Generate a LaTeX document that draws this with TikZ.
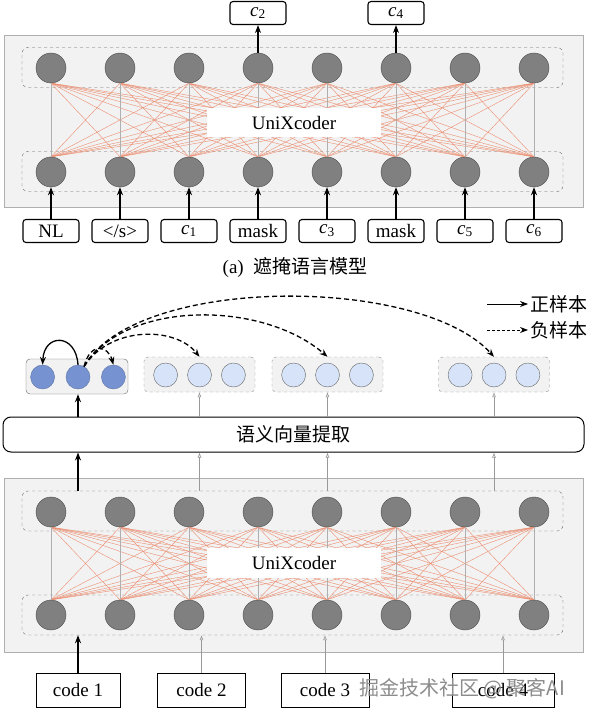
\documentclass[tikz,border=0pt]{standalone}
\usepackage{fontspec}
\setmainfont{Liberation Serif}
\newfontfamily\cjk{Noto Sans CJK SC}
\usetikzlibrary{arrows.meta,positioning}
\definecolor{encbg}{RGB}{242,242,242}
\definecolor{encln}{RGB}{175,175,175}
\definecolor{neuron}{RGB}{128,128,128}
\definecolor{link}{RGB}{236,140,110}
\definecolor{posblue}{RGB}{118,146,208}
\definecolor{negblue}{RGB}{214,227,248}
\newcommand{\cc}[1]{\textit{c}\textsubscript{#1}}

\begin{document}
\begin{tikzpicture}[x=1pt,y=-1pt,font=\fontsize{19}{22}\selectfont,
  >={Stealth[length=8pt,width=6pt]},
  nr/.style={circle,draw=black!70,fill=neuron,minimum size=30pt,inner sep=0pt},
  tok/.style={draw,rounded corners=3pt,line width=1.1pt,minimum width=56pt,minimum height=23pt,inner sep=0pt},
  cd/.style={draw,line width=0.9pt,minimum width=88pt,minimum height=34pt,inner sep=0pt},
  lay/.style={draw=black!60,dashed,rounded corners=6pt,minimum width=541pt,minimum height=40pt,inner sep=0pt},
  encbox/.style={fill=encbg,draw=encln,minimum width=579pt,inner sep=0pt},
  enclbl/.style={fill=white,minimum width=174pt,minimum height=29pt,inner sep=0pt},
  posv/.style={circle,fill=posblue,draw=posblue!80!black,minimum size=24pt,inner sep=0pt},
  negv/.style={circle,fill=negblue,draw=black!60,minimum size=24pt,inner sep=0pt},
  thk/.style={->,line width=1.4pt},
  thn/.style={-{Latex[open,length=5pt,width=4pt]},draw=black!40,line width=0.6pt},
  dsh/.style={->,line width=1.3pt,dash pattern=on 5pt off 3pt}]
  \useasboundingbox (0,0) rectangle (595,719);

  % (a) masked language model
  \node[encbox,minimum height=172pt] (enc1) at (293.5,121) {};
  \node[lay] (up1) at (292.5,67.5) {};
  \node[lay] (lo1) at (292.5,171.5) {};
  \foreach \x [count=\i] in {51,120,189,258,327,396,465,534} {
    \node[nr] (t\i) at (\x,68) {};
    \node[nr] (b\i) at (\x,172) {};
  }
  \foreach \i in {1,...,8}
    \foreach \j in {1,...,8}
      \draw[link,line width=0.4pt] (t\i.south) -- (b\j.north);
  \foreach \i in {1,...,8}
    \draw[encln,line width=0.5pt] (t\i.south) -- (b\i.north);
  \node[enclbl] (lbl1) at (294,123) {UniXcoder};
  \foreach \x/\t [count=\i] in {51/NL,120/{</s>},189/\cc{1},258/mask,327/\cc{3},396/mask,465/\cc{5},534/\cc{6}} {
    \node[tok] (in\i) at (\x,231) {\t};
    \draw[thk] (in\i) -- (b\i);
  }
  \node[tok] (out2) at (258,13) {\cc{2}};
  \node[tok] (out4) at (396,13) {\cc{4}};
  \draw[thk] (t4) -- (out2);
  \draw[thk] (t6) -- (out4);
  \node (capa) at (295,267) {(a)\ \ {\cjk 遮掩语言模型}};

  % legend
  \coordinate (lp) at (487,304);
  \coordinate (ln) at (487,330);
  \node[anchor=west,inner sep=2pt] (poslbl) at (528,304) {\cjk 正样本};
  \node[anchor=west,inner sep=2pt] (neglbl) at (528,330) {\cjk 负样本};
  \draw[->,line width=0.8pt] (lp) -- (poslbl.west);
  \draw[->,line width=0.8pt,dash pattern=on 3pt off 2pt] (ln) -- (neglbl.west);

  % semantic vectors
  \node[fill=encbg,draw=black!60,rounded corners=4pt,minimum width=102pt,minimum height=35pt] (g1) at (77,376.5) {};
  \node[posv] (g1b) at (78,377) {};
  \node[posv,left=11pt of g1b] (g1a) {};
  \node[posv,right=11pt of g1b] (g1c) {};
  \foreach \g/\x in {2/199.5,3/327.5,4/494} {
    \node[fill=encbg,draw=black!45,dashed,rounded corners=4pt,minimum width=111pt,minimum height=35pt] (g\g) at (\x,374.5) {};
    \node[negv] (g\g b) at (\x,375) {};
    \node[negv,left=9.5pt of g\g b] (g\g a) {};
    \node[negv,right=9.5pt of g\g b] (g\g c) {};
  }
  \draw[->,line width=1.3pt] (g1b.north) .. controls (76,333) and (44,333) .. (g1a.north);
  \draw[dsh] (g1b.60) .. controls (90,342) and (108,345) .. (g1c.north);
  \draw[dsh] (g1b.60) .. controls (110,326) and (175,326) .. (g2.north);
  \draw[dsh] (g1b.60) .. controls (125,300) and (262,300) .. (g3.north);
  \draw[dsh] (g1b.60) .. controls (135,275) and (420,275) .. (g4.north);

  \node[draw,rounded corners=8pt,line width=1pt,minimum width=581pt,minimum height=35pt] (sem) at (293.5,434.5) {\cjk 语义向量提取};
  \draw[thk] (g1b |- sem.north) -- (g1b |- g1.south);
  \foreach \g in {2,3,4}
    \draw[thn] (g\g b |- sem.north) -- (g\g b |- g\g.south);

  % UniXcoder for code
  \node[encbox,minimum height=174pt] (enc2) at (293.5,565) {};
  \node[lay] (up2) at (292.5,511) {};
  \node[lay] (lo2) at (292.5,615) {};
  \foreach \x [count=\i] in {51,120,189,258,327,396,465,534} {
    \node[nr] (tt\i) at (\x,512) {};
    \node[nr] (bb\i) at (\x,615) {};
  }
  \foreach \i in {1,...,8}
    \foreach \j in {1,...,8}
      \draw[link,line width=0.4pt] (tt\i.south) -- (bb\j.north);
  \foreach \i in {1,...,8}
    \draw[encln,line width=0.5pt] (tt\i.south) -- (bb\i.north);
  \node[enclbl,minimum height=30pt] (lbl2) at (294,563) {UniXcoder};
  \draw[thk] (g1b |- up2.north) -- (g1b |- sem.south);
  \foreach \g in {2,3,4}
    \draw[thn] (g\g b |- up2.north) -- (g\g b |- sem.south);

  \node[cd,minimum width=84pt] (code1) at (78,690) {code 1};
  \node[cd] (code2) at (201.5,690) {code 2};
  \node[cd] (code3) at (325,690) {code 3};
  \node[cd,minimum width=102pt] (code4) at (503,690) {code 4};
  \draw[thk] (code1) -- (code1 |- lo2.south);
  \foreach \i in {2,3,4}
    \draw[thn] (code\i) -- (code\i |- lo2.south);

  \node[text=black!45,font=\cjk\fontsize{20}{22}\selectfont] (wm) at (462,689) {掘金技术社区 @ 聚客AI};
\end{tikzpicture}
\end{document}
